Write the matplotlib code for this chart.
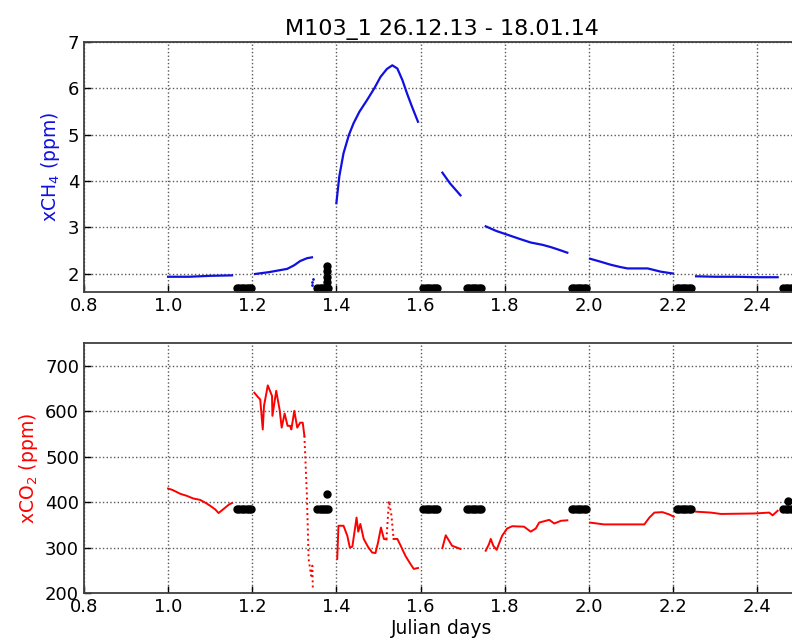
"""
Two-panel time series of xCH4 and xCO2 for campaign M103_1.
"""

import matplotlib.pyplot as plt

# ---- xCH4 segments (Julian days, ppm) ----
ch4_seg_x = [
    [1.000, 1.050, 1.100, 1.152],
    [1.207, 1.240, 1.283, 1.300, 1.314, 1.330, 1.342],
    [1.400, 1.407, 1.417, 1.430, 1.441, 1.455, 1.473, 1.490, 1.505, 1.520,
     1.533, 1.545, 1.557, 1.568, 1.580, 1.594],
    [1.652, 1.670, 1.695],
    [1.755, 1.780, 1.806, 1.835, 1.862, 1.890, 1.910, 1.930, 1.949],
    [2.003, 2.030, 2.052, 2.075, 2.092, 2.140, 2.171, 2.200],
    [2.255, 2.300, 2.350, 2.400, 2.449],
]
ch4_seg_y = [
    [1.93, 1.93, 1.95, 1.96],
    [1.99, 2.03, 2.10, 2.18, 2.27, 2.33, 2.35],
    [3.52, 4.10, 4.60, 5.00, 5.25, 5.50, 5.75, 6.00, 6.25, 6.42,
     6.50, 6.43, 6.18, 5.89, 5.60, 5.28],
    [4.18, 3.95, 3.69],
    [3.02, 2.92, 2.84, 2.75, 2.67, 2.62, 2.57, 2.51, 2.45],
    [2.32, 2.25, 2.19, 2.14, 2.11, 2.11, 2.04, 2.00],
    [1.94, 1.93, 1.93, 1.92, 1.92],
]
ch4_blip_x = [1.343, 1.343, 1.344]
ch4_blip_y = [1.76, 1.82, 1.88]

# ---- xCO2 segments (Julian days, ppm) ----
co2_seg_x = [
    [1.000, 1.010, 1.030, 1.044, 1.060, 1.076, 1.090, 1.100, 1.112, 1.120,
     1.132, 1.145, 1.152],
    [1.205, 1.212, 1.219, 1.225, 1.228, 1.237, 1.247, 1.248, 1.257, 1.265,
     1.270, 1.277, 1.284, 1.290, 1.293, 1.300, 1.307, 1.314, 1.320, 1.324],
    [1.324, 1.330, 1.334, 1.340, 1.343, 1.344],
    [1.402, 1.405, 1.417, 1.426, 1.432, 1.438, 1.448, 1.452, 1.457, 1.465,
     1.475, 1.485, 1.493, 1.499, 1.506, 1.513, 1.519],
    [1.519, 1.525, 1.531, 1.536],
    [1.536, 1.545, 1.554, 1.564, 1.576, 1.584, 1.594],
    [1.652, 1.660, 1.675, 1.695],
    [1.755, 1.763, 1.767, 1.773, 1.781, 1.794, 1.806, 1.818, 1.846, 1.862,
     1.874, 1.882, 1.906, 1.918, 1.934, 1.949],
    [2.003, 2.036, 2.092, 2.132, 2.144, 2.156, 2.175, 2.191, 2.202],
    [2.255, 2.290, 2.314, 2.393, 2.429, 2.437, 2.449],
]
co2_seg_y = [
    [430, 427, 418, 414, 408, 405, 398, 392, 384, 376,
     385, 395, 398],
    [641, 633, 626, 560, 612, 657, 634, 590, 645, 604,
     564, 595, 568, 568, 560, 601, 564, 575, 575, 546],
    [546, 414, 275, 238, 260, 212],
    [275, 348, 348, 326, 300, 302, 366, 335, 352, 319,
     302, 289, 288, 311, 344, 319, 318],
    [318, 403, 370, 319],
    [319, 319, 302, 282, 264, 253, 255],
    [299, 327, 304, 297],
    [293, 308, 319, 304, 295, 326, 342, 347, 346, 335,
     342, 355, 361, 353, 359, 360],
    [355, 351, 351, 351, 366, 377, 378, 373, 368],
    [379, 377, 374, 375, 377, 371, 381],
]
co2_seg_style = ["-", "-", ":", "-", ":", "-", "-", "-", "-", "-"]

# ---- calibration points (black) ----
cal_x = [
    1.163, 1.169, 1.175, 1.181, 1.187, 1.192, 1.197,
    1.355, 1.360, 1.365, 1.370, 1.376, 1.381,
    1.606, 1.612, 1.618, 1.623, 1.629, 1.635, 1.640,
    1.710, 1.716, 1.722, 1.727, 1.733, 1.739, 1.744,
    1.959, 1.965, 1.971, 1.976, 1.982, 1.988, 1.993,
    2.209, 2.215, 2.221, 2.226, 2.232, 2.238, 2.243,
    2.462, 2.468, 2.474, 2.480, 2.486,
]
cal_ch4 = [1.68] * len(cal_x)
cal_co2 = [385] * len(cal_x)
cal_extra_ch4_x = [1.378, 1.378, 1.378, 1.378]
cal_extra_ch4_y = [1.82, 1.93, 2.05, 2.16]
cal_extra_co2_x = [1.378, 2.474]
cal_extra_co2_y = [418, 403]

x_ticks = [0.8, 1.0, 1.2, 1.4, 1.6, 1.8, 2.0, 2.2, 2.4]
ch4_ticks = [2, 3, 4, 5, 6, 7]
co2_ticks = [200, 300, 400, 500, 600, 700]


def style_axes(ax):
    ax.set_xlim(0.8, 2.5)
    ax.set_xticks(x_ticks)
    ax.set_xticklabels([f"{t:.1f}" for t in x_ticks])
    ax.grid(True, linestyle=":", color="0.35", linewidth=1.0)
    ax.tick_params(direction="in", labelsize=13, length=5, width=1)
    for spine in ax.spines.values():
        spine.set_color("0.25")
        spine.set_linewidth(1.3)


fig = plt.figure(figsize=(7.92, 6.39), dpi=100)
ax1 = fig.add_axes([0.106, 0.543, 0.903, 0.391])
ax2 = fig.add_axes([0.106, 0.072, 0.903, 0.391])

for xs, ys in zip(ch4_seg_x, ch4_seg_y):
    ax1.plot(xs, ys, color="#1010e0", linewidth=1.6)
ax1.plot(ch4_blip_x, ch4_blip_y, ".", color="#1010e0", markersize=2)
ax1.plot(cal_x, cal_ch4, "o", color="black", markersize=5)
ax1.plot(cal_extra_ch4_x, cal_extra_ch4_y, "o", color="black", markersize=5)
style_axes(ax1)
ax1.set_ylim(1.6, 7)
ax1.set_yticks(ch4_ticks)
ax1.set_ylabel("xCH$_4$ (ppm)", color="#1010e0", fontsize=13.5)
ax1.set_title("M103_1 26.12.13 - 18.01.14", fontsize=16, pad=5)

for xs, ys, ls in zip(co2_seg_x, co2_seg_y, co2_seg_style):
    ax2.plot(xs, ys, color="red", linewidth=1.4, linestyle=ls)
ax2.plot(cal_x, cal_co2, "o", color="black", markersize=5)
ax2.plot(cal_extra_co2_x, cal_extra_co2_y, "o", color="black", markersize=5)
style_axes(ax2)
ax2.set_ylim(200, 750)
ax2.set_yticks(co2_ticks)
ax2.set_ylabel("xCO$_2$ (ppm)", color="red", fontsize=13.5)
ax2.set_xlabel("Julian days", fontsize=13.5, labelpad=2)

fig.savefig("out.png", dpi=100)
plt.close(fig)
